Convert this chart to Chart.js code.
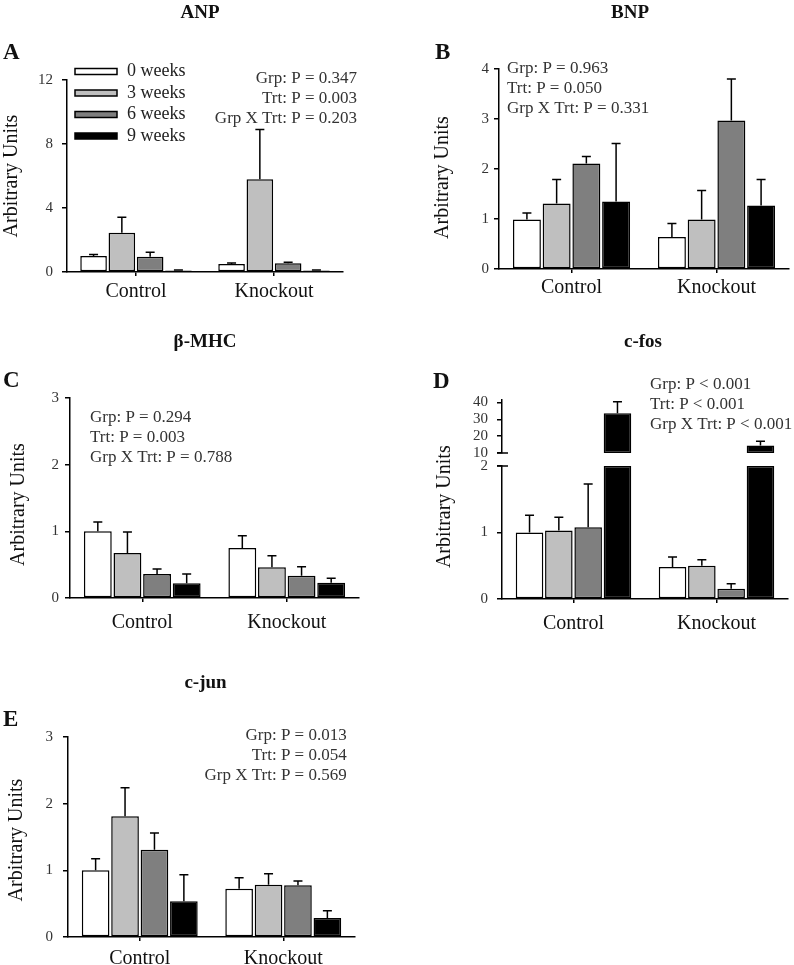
<!DOCTYPE html>
<html>
<head>
<meta charset="utf-8">
<script src="https://cdn.jsdelivr.net/npm/chart.js@4.4.1/dist/chart.umd.min.js"></script>
<style>
  body { margin: 0; width: 794px; height: 965px; background: #fff; position: relative; overflow: hidden; }
  canvas { position: absolute; }
</style>
</head>
<body>
<canvas id="anp"></canvas>
<canvas id="bnp"></canvas>
<canvas id="mhc"></canvas>
<canvas id="fos"></canvas>
<canvas id="jun"></canvas>
<script>
const FONT = 'Liberation Serif';

const categories = ['Control', 'Knockout'];
const seriesLabels = ['0 weeks', '3 weeks', '6 weeks', '9 weeks'];
const seriesColors = ['#ffffff', '#bfbfbf', '#7f7f7f', '#000000'];
const yAxisTitle = 'Arbitrary Units';

// rows: 0, 3, 6, 9 weeks / columns: Control, Knockout
// A - ANP
const anpMeans = [[1.0, 0.5], [2.46, 5.8], [0.96, 0.55], [0.1, 0.1]];
const anpSem = [[0.1, 0.06], [0.96, 3.1], [0.27, 0.06], [0.03, 0.03]];
const anpTicks = [0, 4, 8, 12];
const anpStats = ['Grp: P = 0.347', 'Trt: P = 0.003', 'Grp X Trt: P = 0.203'];

// B - BNP
const bnpMeans = [[0.99, 0.64], [1.31, 0.99], [2.11, 2.97], [1.35, 1.27]];
const bnpSem = [[0.13, 0.27], [0.48, 0.58], [0.14, 0.83], [1.16, 0.52]];
const bnpTicks = [0, 1, 2, 3, 4];
const bnpStats = ['Grp: P = 0.963', 'Trt: P = 0.050', 'Grp X Trt: P = 0.331'];

// C - beta-MHC
const mhcMeans = [[1.0, 0.75], [0.675, 0.46], [0.36, 0.335], [0.22, 0.23]];
const mhcSem = [[0.14, 0.185], [0.315, 0.175], [0.075, 0.135], [0.14, 0.065]];
const mhcTicks = [0, 1, 2, 3];
const mhcStats = ['Grp: P = 0.294', 'Trt: P = 0.003', 'Grp X Trt: P = 0.788'];

// D - c-fos (broken axis)
const fosMeans = [[1.0, 0.48], [1.03, 0.5], [1.08, 0.155], [33.6, 14.4]];
const fosSem = [[0.26, 0.15], [0.2, 0.09], [0.65, 0.075], [6.9, 2.6]];
const fosLowTicks = [0, 1, 2];
const fosHighTicks = [10, 20, 30, 40];
const fosStats = ['Grp: P < 0.001', 'Trt: P < 0.001', 'Grp X Trt: P < 0.001'];

// E - c-jun
const junMeans = [[1.0, 0.725], [1.81, 0.785], [1.31, 0.775], [0.535, 0.285]];
const junSem = [[0.175, 0.165], [0.43, 0.165], [0.25, 0.065], [0.4, 0.11]];
const junTicks = [0, 1, 2, 3];
const junStats = ['Grp: P = 0.013', 'Trt: P = 0.054', 'Grp X Trt: P = 0.569'];

const fosLowMax = 2, fosHighMin = 10, fosHighMax = 41.5;

Chart.defaults.font.family = FONT;

// error bars (upper only), drawn on each dataset's own y scale
const errorBars = {
  id: 'errorBars',
  afterDatasetsDraw(chart) {
    const ctx = chart.ctx;
    ctx.save();
    ctx.strokeStyle = '#000';
    ctx.lineWidth = 1.5;
    chart.data.datasets.forEach((ds, i) => {
      if (!ds.errors) return;
      const meta = chart.getDatasetMeta(i);
      const yScale = chart.scales[meta.yAxisID];
      meta.data.forEach((bar, j) => {
        const raw = ds.data[j];
        const err = ds.errors[j];
        if (raw == null || err == null) return;
        const top = Array.isArray(raw) ? raw[1] : raw;
        const y1 = yScale.getPixelForValue(top + err);
        ctx.beginPath();
        ctx.moveTo(bar.x, bar.y);
        ctx.lineTo(bar.x, y1);
        ctx.moveTo(bar.x - 4.5, y1);
        ctx.lineTo(bar.x + 4.5, y1);
        ctx.stroke();
      });
    });
    ctx.restore();
  }
};

// titles, panel letter, y title, stats, legend, axis break
const panelText = {
  id: 'panelText',
  afterDraw(chart, args, o) {
    const ctx = chart.ctx;
    const ox = o.box.left, oy = o.box.top;
    ctx.save();
    ctx.textBaseline = 'middle';
    ctx.fillStyle = '#111';
    ctx.font = `bold 19px "${FONT}"`;
    ctx.textAlign = 'center';
    ctx.fillText(o.title, o.titleAt[0] - ox, o.titleAt[1] - oy);
    ctx.font = `bold 23px "${FONT}"`;
    ctx.textAlign = 'left';
    ctx.fillText(o.letter, o.letterAt[0] - ox, o.letterAt[1] - oy);

    ctx.save();
    ctx.translate(o.yTitleAt[0] - ox, o.yTitleAt[1] - oy);
    ctx.rotate(-Math.PI / 2);
    ctx.font = `20px "${FONT}"`;
    ctx.textAlign = 'center';
    ctx.fillText(yAxisTitle, 0, 0);
    ctx.restore();

    ctx.fillStyle = '#333';
    ctx.font = `17px "${FONT}"`;
    ctx.textAlign = o.statsAlign;
    o.stats.forEach((s, i) => ctx.fillText(s, o.statsAt[0] - ox, o.statsAt[1] - oy + i * 20));

    if (o.legendAt) {
      ctx.font = `18px "${FONT}"`;
      ctx.textAlign = 'left';
      ctx.strokeStyle = '#000';
      ctx.lineWidth = 1.5;
      seriesLabels.forEach((lab, i) => {
        const x = o.legendAt[0] - ox, y = o.legendAt[1] - oy + i * 21.5;
        ctx.fillStyle = seriesColors[i];
        ctx.fillRect(x, y - 3, 42, 6);
        ctx.strokeRect(x, y - 3, 42, 6);
        ctx.fillStyle = '#222';
        ctx.fillText(lab, x + 52, y);
      });
    }

    if (o.breaks) {
      const ax = chart.scales.yLow.right;
      ctx.strokeStyle = '#000';
      ctx.lineWidth = 1.5;
      [chart.scales.yTop.getPixelForValue(fosHighMin), chart.scales.yLow.getPixelForValue(fosLowMax)].forEach(y => {
        ctx.beginPath();
        ctx.moveTo(ax - 5, y);
        ctx.lineTo(ax + 6, y);
        ctx.stroke();
      });
    }
    ctx.restore();
  }
};

function xAxis(p) {
  return {
    type: 'category',
    offset: true,
    grid: { display: true, drawOnChartArea: false, offset: false, tickLength: 4, color: '#000', lineWidth: 1.5 },
    border: { color: '#000', width: 1.5 },
    ticks: { color: '#111', font: { family: FONT, size: 20 }, padding: p.xPad, maxRotation: 0, autoSkip: false },
    afterFit: s => { s.height = p.box.top + p.box.h - p.area.b; }
  };
}

function yAxis(p, min, max, ticks, extra) {
  return Object.assign({
    position: 'left',
    min, max,
    stacked: false,
    afterBuildTicks: s => { s.ticks = ticks.map(v => ({ value: v })); },
    grid: { display: true, drawOnChartArea: false, tickLength: 5, color: '#000', lineWidth: 1.5 },
    border: { color: '#000', width: 1.5 },
    ticks: { color: '#333', font: { family: FONT, size: 15 }, padding: p.yPad, autoSkip: false },
    afterFit: s => { s.width = p.area.l - p.box.left; }
  }, extra || {});
}

function barStyle(s) {
  return {
    label: seriesLabels[s],
    backgroundColor: seriesColors[s],
    borderColor: '#000',
    borderWidth: 1.5,
    borderSkipped: false,
    categoryPercentage: 0.82,
    barPercentage: 0.94
  };
}

function barSets(means, sems) {
  return means.map((m, s) => Object.assign(barStyle(s), { data: m, errors: sems[s] }));
}

function makeChart(id, p, datasets, scales) {
  const canvas = document.getElementById(id);
  canvas.width = p.box.w;
  canvas.height = p.box.h;
  canvas.style.left = p.box.left + 'px';
  canvas.style.top = p.box.top + 'px';
  return new Chart(canvas, {
    type: 'bar',
    data: { labels: categories, datasets },
    options: {
      responsive: false,
      animation: false,
      devicePixelRatio: 1,
      layout: { padding: { left: 0, bottom: 0, top: p.area.t - p.box.top, right: p.box.left + p.box.w - p.area.r } },
      plugins: { legend: { display: false }, tooltip: { enabled: false }, panelText: p },
      scales
    },
    plugins: [errorBars, panelText]
  });
}

const panelA = { box: { left: 0, top: 0, w: 397, h: 312 }, area: { l: 67, t: 80, r: 343, b: 272 }, xPad: 4, yPad: 9,
  title: 'ANP', titleAt: [200, 13], letter: 'A', letterAt: [3, 53], yTitleAt: [12, 176],
  stats: anpStats, statsAt: [357, 78.3], statsAlign: 'right', legendAt: [75, 71.5] };
const panelB = { box: { left: 397, top: 0, w: 397, h: 312 }, area: { l: 499, t: 69, r: 789, b: 269 }, xPad: 3, yPad: 5,
  title: 'BNP', titleAt: [630, 13], letter: 'B', letterAt: [435, 53], yTitleAt: [442.5, 177.5],
  stats: bnpStats, statsAt: [507, 68.3], statsAlign: 'left' };
const panelC = { box: { left: 0, top: 318, w: 397, h: 326 }, area: { l: 70, t: 398, r: 359, b: 598 }, xPad: 9, yPad: 6,
  title: 'β-MHC', titleAt: [205, 342], letter: 'C', letterAt: [3, 381], yTitleAt: [18.5, 504.5],
  stats: mhcStats, statsAt: [90, 417.5], statsAlign: 'left' };
const panelD = { box: { left: 397, top: 318, w: 397, h: 326 }, area: { l: 502, t: 400, r: 788, b: 599 }, xPad: 9, yPad: 9,
  title: 'c-fos', titleAt: [643, 342], letter: 'D', letterAt: [433, 382], yTitleAt: [444.7, 506.7],
  stats: fosStats, statsAt: [650, 385], statsAlign: 'left', breaks: true };
const panelE = { box: { left: 0, top: 650, w: 397, h: 315 }, area: { l: 68, t: 737, r: 355, b: 937 }, xPad: 6, yPad: 10,
  title: 'c-jun', titleAt: [205.5, 683], letter: 'E', letterAt: [3, 720], yTitleAt: [17, 840],
  stats: junStats, statsAt: [346.7, 735.3], statsAlign: 'right' };

makeChart('anp', panelA, barSets(anpMeans, anpSem), { x: xAxis(panelA), y: yAxis(panelA, 0, 12, anpTicks) });
makeChart('bnp', panelB, barSets(bnpMeans, bnpSem), { x: xAxis(panelB), y: yAxis(panelB, 0, 4, bnpTicks) });
makeChart('mhc', panelC, barSets(mhcMeans, mhcSem), { x: xAxis(panelC), y: yAxis(panelC, 0, 3, mhcTicks) });
makeChart('jun', panelE, barSets(junMeans, junSem), { x: xAxis(panelE), y: yAxis(panelE, 0, 3, junTicks) });

// c-fos: lower part on yLow (clipped at its max), upper part as floating bars on yTop
const fosSets = [];
fosMeans.forEach((m, s) => {
  fosSets.push(Object.assign(barStyle(s), {
    stack: 'w' + s, yAxisID: 'yLow',
    data: m.map(v => Math.min(v, fosLowMax)),
    errors: fosSem[s].map((e, i) => m[i] > fosLowMax ? null : e)
  }));
  fosSets.push(Object.assign(barStyle(s), {
    stack: 'w' + s, yAxisID: 'yTop',
    data: m.map(v => v > fosHighMin ? [fosHighMin, v] : null),
    errors: fosSem[s].map((e, i) => m[i] > fosHighMin ? e : null)
  }));
});

makeChart('fos', panelD, fosSets, {
  x: xAxis(panelD),
  yLow: yAxis(panelD, 0, fosLowMax, fosLowTicks, { stack: 'fos', stackWeight: 133, weight: 1 }),
  yGap: yAxis(panelD, 0, 1, [], {
    stack: 'fos', stackWeight: 13, weight: 2,
    grid: { display: false }, border: { display: false }, ticks: { display: false }
  }),
  yTop: yAxis(panelD, fosHighMin, fosHighMax, fosHighTicks, { stack: 'fos', stackWeight: 53, weight: 3 })
});
</script>
</body>
</html>
